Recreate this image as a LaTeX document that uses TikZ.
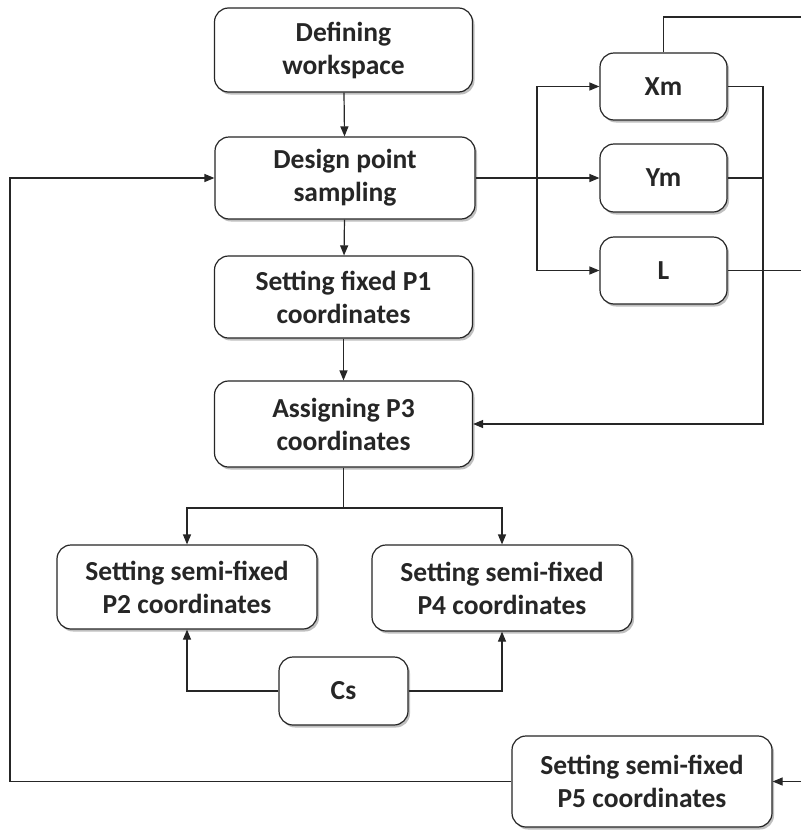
\documentclass[tikz,border=0pt]{standalone}
\usepackage{fontspec}
\setmainfont{Carlito}
\usetikzlibrary{arrows.meta,shadows}
\begin{document}
\begin{tikzpicture}[x=1pt,y=-1pt,
  box/.style={draw=black!85, line width=1.2pt, rounded corners=14pt, fill=white,
    align=center, font=\fontsize{27.5}{33}\selectfont\bfseries, text=black!85,
    inner sep=0pt,
    drop shadow={shadow xshift=2pt, shadow yshift=-2.5pt, opacity=0.25, fill=black}},
  conn/.style={draw=black!85, line width=1.2pt},
  arr/.style={conn, -{Triangle[length=10pt,width=8pt]}}]
\useasboundingbox[fill=white] (0,0) rectangle (801,830);
% main column
\node[box, minimum width=258pt, minimum height=84pt] (def) at (343.5,50) {Defining\\workspace};
\node[box, minimum width=260pt, minimum height=82pt] (des) at (345,178) {Design point\\sampling};
\node[box, minimum width=258pt, minimum height=82pt] (p1) at (343.5,297) {Setting fixed P1\\coordinates};
\node[box, minimum width=258pt, minimum height=86pt] (p3) at (343.5,424) {Assigning P3\\coordinates};
\node[box, minimum width=260pt, minimum height=84pt] (p2) at (187,587) {Setting semi-fixed\\P2 coordinates};
\node[box, minimum width=260pt, minimum height=86pt] (p4) at (502,588) {Setting semi-fixed\\P4 coordinates};
\node[box, minimum width=129pt, minimum height=68pt] (cs) at (343.5,691) {Cs};
\node[box, minimum width=260pt, minimum height=91pt] (p5) at (642,781.5) {Setting semi-fixed\\P5 coordinates};
% parameter boxes
\node[box, minimum width=127pt, minimum height=67pt] (xm) at (663.5,86.5) {Xm};
\node[box, minimum width=127pt, minimum height=68pt] (ym) at (663.5,178) {Ym};
\node[box, minimum width=127pt, minimum height=67pt] (l) at (663.5,270.5) {L};
% helper coordinates
\coordinate (br) at (537,178);
\coordinate (cx) at (763,300);
\coordinate (xo) at (801,17);
\coordinate (lo) at (801,270.5);
\coordinate (pin) at (801,781.5);
\coordinate (lx) at (10,500);
\coordinate (sp) at (343.5,508);
% connectors
\draw[arr] (def) -- (des);
\draw[arr] (des) -- (p1);
\draw[arr] (p1) -- (p3);
\draw[arr] (des.east) -- (ym.west);
\draw[arr] (br) |- (xm.west);
\draw[arr] (br) |- (l.west);
\draw[conn] (xm.north) |- (xo);
\draw[arr] (xm.east) -| (cx) |- (p3.east);
\draw[conn] (ym.east) -- (ym.east -| cx);
\draw[conn] (l.east) -- (lo);
\draw[conn] (p3.south) -- (sp);
\draw[arr] (sp) -| (p2.north);
\draw[arr] (sp) -| (p4.north);
\draw[arr] (cs.west) -| (p2.south);
\draw[arr] (cs.east) -| (p4.south);
\draw[arr] (pin) -- (p5.east);
\draw[arr] (p5.west) -| (lx) |- (des.west);
\end{tikzpicture}
\end{document}
